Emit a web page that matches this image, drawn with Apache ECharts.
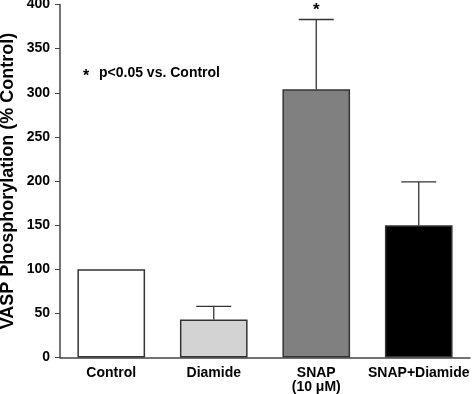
<!DOCTYPE html>
<html>
<head>
<meta charset="utf-8">
<script src="https://cdn.jsdelivr.net/npm/echarts@6/dist/echarts.min.js"></script>
<style>html,body{margin:0;padding:0;background:#fff;}#c{width:474px;height:394px;}</style>
</head>
<body>
<div id="c"></div>
<script>
const categories = ['Control', 'Diamide', 'SNAP\n(10 \u03bcM)', 'SNAP+Diamide'];
const means = [100, 43, 304, 150];
const errors = [0, 15, 79, 49];
const significance = ['', '', '*', ''];
const barColors = ['#ffffff', '#d3d3d3', '#808080', '#000000'];
const yTicks = [0, 50, 100, 150, 200, 250, 300, 350, 400];

const chart = echarts.init(document.getElementById('c'));
const font = 'Liberation Sans, Arial, sans-serif';
chart.setOption({
  animation: false,
  grid: { left: 60, right: 4, top: 4.5, bottom: 36.5, outerBoundsMode: 'none', containLabel: false },
  xAxis: {
    type: 'category',
    data: categories,
    axisLine: { lineStyle: { color: '#444', width: 1.5 } },
    axisTick: { alignWithLabel: true, length: 4, lineStyle: { color: '#444' } },
    axisLabel: { interval: 0, color: '#000', fontWeight: 'bold', fontSize: 14, fontFamily: font, margin: 9, lineHeight: 14 }
  },
  yAxis: {
    type: 'value',
    min: yTicks[0], max: yTicks[yTicks.length - 1], interval: 50,
    name: 'VASP Phosphorylation (% Control)',
    nameLocation: 'middle', nameGap: 43, nameMoveOverlap: false,
    nameTextStyle: { color: '#000', fontWeight: 'bold', fontSize: 18, fontFamily: font },
    splitLine: { show: false },
    axisLine: { show: true, lineStyle: { color: '#444', width: 1.5 } },
    axisTick: { show: true, length: 5, lineStyle: { color: '#444' } },
    axisLabel: { color: '#000', fontWeight: 'bold', fontSize: 14, fontFamily: font, margin: 10 }
  },
  series: [
    {
      type: 'bar',
      barWidth: '66%',
      data: means.map((v, i) => ({ value: v, itemStyle: { color: barColors[i] } })),
      itemStyle: { borderColor: '#333', borderWidth: 1.5 },
      z: 2
    },
    {
      type: 'custom',
      z: 1,
      data: means.map((v, i) => [i, v, v + errors[i], significance[i]]),
      renderItem: function (params, api) {
        const x = api.value(0);
        const lo = api.coord([x, api.value(1)]);
        const hi = api.coord([x, api.value(2)]);
        const half = 17.5;
        const children = [];
        if (api.value(2) > api.value(1)) {
          children.push({ type: 'line', shape: { x1: lo[0], y1: lo[1], x2: hi[0], y2: hi[1] }, style: { stroke: '#333', lineWidth: 1.3 } });
          children.push({ type: 'line', shape: { x1: hi[0] - half, y1: hi[1], x2: hi[0] + half, y2: hi[1] }, style: { stroke: '#333', lineWidth: 1.3 } });
        }
        const sig = significance[params.dataIndex];
        if (sig) {
          children.push({ type: 'text', style: { text: sig, x: hi[0], y: hi[1] - 1, align: 'center', verticalAlign: 'bottom', fill: '#000', font: 'bold 17px ' + font } });
        }
        return { type: 'group', children: children };
      }
    }
  ],
  graphic: [
    { type: 'text', left: 83, top: 69, style: { text: '*', fill: '#000', font: 'bold 16px ' + font } },
    { type: 'text', left: 99, top: 66, style: { text: 'p<0.05 vs. Control', fill: '#000', font: 'bold 14px ' + font } }
  ]
});
</script>
</body>
</html>
